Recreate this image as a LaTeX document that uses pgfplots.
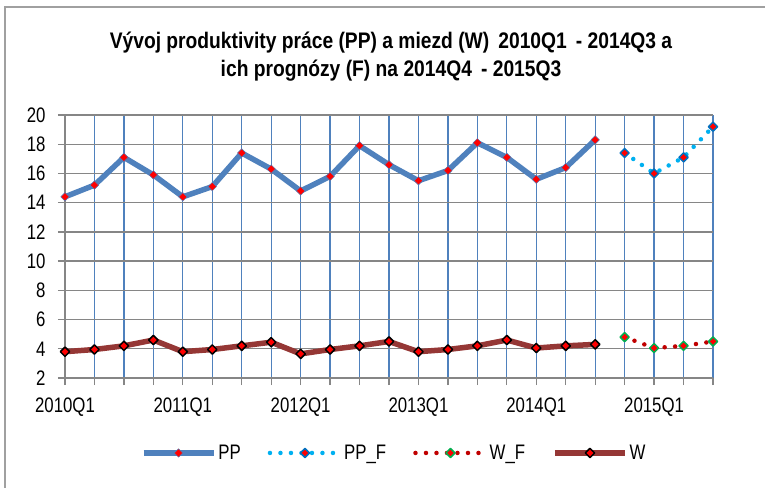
\documentclass[border=0pt]{standalone}
\usepackage{fontspec}
\setmainfont{Liberation Sans}[FakeStretch=0.8]
\newfontfamily\titlefont{Liberation Sans}[FakeStretch=0.855]
\usepackage{pgfplots}
\pgfplotsset{compat=1.18}
\definecolor{ppblue}{HTML}{4F81BD}
\definecolor{ppfblue}{HTML}{00B0F0}
\definecolor{ppfmark}{HTML}{0070C0}
\definecolor{wred}{HTML}{953735}
\definecolor{wfred}{HTML}{C00000}
\definecolor{wfgreen}{HTML}{00B050}
\definecolor{gridgray}{HTML}{868686}
\definecolor{framegray}{HTML}{A0A0A0}

\begin{document}
\begin{tikzpicture}[x=1pt,y=1pt]
  \useasboundingbox (0,0) rectangle (765,487);
  \draw[framegray, line width=1.5pt] (5,-20) |- (800,480);
  \node[anchor=base, font=\titlefont\bfseries\fontsize{22.5}{26}\selectfont] at (391,438.5)
    {Vývoj produktivity práce (PP) a miezd (W)\, 2010Q1\, - 2014Q3 a};
  \node[anchor=base, font=\titlefont\bfseries\fontsize{22.5}{26}\selectfont] at (391,410)
    {ich prognózy (F) na 2014Q4\, - 2015Q3};
  \begin{axis}[
      at={(65pt,109pt)}, anchor=south west,
      scale only axis, width=648pt, height=263pt,
      xmin=0, xmax=22, ymin=2, ymax=20,
      ytick={2,4,...,20},
      xtick={0,...,22},
      xticklabels={2010Q1,,,,2011Q1,,,,2012Q1,,,,2013Q1,,,,2014Q1,,,,2015Q1,,},
      axis lines*=left,
      axis line style={gridgray, line width=1.3pt},
      tick style={gridgray, line width=1.3pt},
      major tick length=7pt,
      tick align=outside,
      xmajorgrids, ymajorgrids,
      x grid style={ppblue, line width=1.3pt},
      y grid style={gridgray, line width=1.3pt},
      tick label style={font=\fontsize{21}{25}\selectfont},
      xticklabel style={yshift=-9pt},
      yticklabel style={xshift=-9pt},
      /pgf/number format/assume math mode=true,
      line join=round,
      legend columns=4,
      legend style={at={(0.508,-0.285)}, anchor=center, draw=none, fill=none,
        font=\fontsize{21}{25}\selectfont,
        /tikz/every even column/.append style={column sep=25pt}},
      legend image code/.code={
        \draw[mark repeat=2, mark phase=2, #1] plot coordinates {(0pt,0pt) (35pt,0pt) (70pt,0pt)};},
    ]
    \addplot[ppblue, line width=5.5pt, mark=square*, mark size=3pt,
      mark options={rotate=45, fill=red, draw=ppblue, line width=0.5pt, solid}]
      coordinates {(0,14.4) (1,15.2) (2,17.1) (3,15.9) (4,14.4) (5,15.1) (6,17.4)
        (7,16.3) (8,14.8) (9,15.8) (10,17.9) (11,16.6) (12,15.5) (13,16.2)
        (14,18.1) (15,17.1) (16,15.6) (17,16.4) (18,18.3)};
    \addlegendentry{PP}
    \addplot[ppfblue, line width=4.5pt, line cap=round, dash pattern=on 0pt off 10.5pt,
      mark=square*, mark size=3.2pt,
      mark options={rotate=45, fill=red, draw=ppfmark, line width=1.5pt, solid}]
      coordinates {(19,17.4) (20,16.0) (21,17.1) (22,19.2)};
    \addlegendentry{PP\_F}
    \addplot[wfred, line width=4.5pt, line cap=round, dash pattern=on 0pt off 10.5pt,
      mark=square*, mark size=3.2pt,
      mark options={rotate=45, fill=red, draw=wfgreen, line width=1.5pt, solid}]
      coordinates {(19,4.8) (20,4.05) (21,4.2) (22,4.5)};
    \addlegendentry{W\_F}
    \addplot[wred, line width=5.5pt, mark=square*, mark size=3.3pt,
      mark options={rotate=45, fill=red, draw=black, line width=1.5pt, solid}]
      coordinates {(0,3.8) (1,3.95) (2,4.2) (3,4.6) (4,3.8) (5,3.95) (6,4.2)
        (7,4.45) (8,3.65) (9,3.95) (10,4.2) (11,4.5) (12,3.8) (13,3.95)
        (14,4.2) (15,4.6) (16,4.05) (17,4.2) (18,4.3)};
    \addlegendentry{W}
  \end{axis}
\end{tikzpicture}
\end{document}
